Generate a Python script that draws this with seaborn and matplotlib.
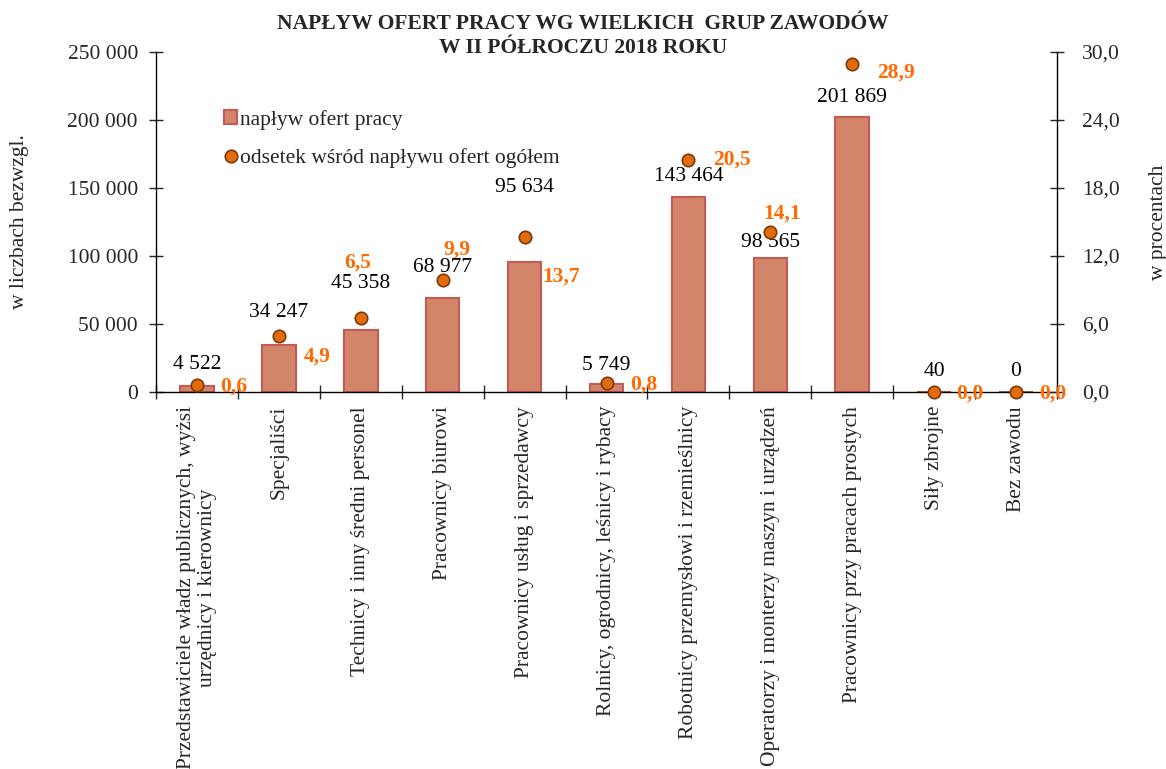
import numpy as np
import matplotlib
matplotlib.use("Agg")
import matplotlib.pyplot as plt
import matplotlib.ticker as mticker
from matplotlib.patches import Patch
from matplotlib.lines import Line2D
import seaborn as sns

# -------------------------------
# DATA
# -------------------------------
categories = [
    "Przedstawiciele władz publicznych, wyżsi\nurzędnicy i kierownicy",
    "Specjaliści",
    "Technicy i inny średni personel",
    "Pracownicy biurowi",
    "Pracownicy usług i sprzedawcy",
    "Rolnicy, ogrodnicy, leśnicy i rybacy",
    "Robotnicy przemysłowi i rzemieślnicy",
    "Operatorzy i monterzy maszyn i urządzeń",
    "Pracownicy przy pracach prostych",
    "Siły zbrojne",
    "Bez zawodu",
]
offers = [4522, 34247, 45358, 68977, 95634, 5749, 143464, 98565, 201869, 40, 0]
share_pct = [0.6, 4.9, 6.5, 9.9, 13.7, 0.8, 20.5, 14.1, 28.9, 0.0, 0.0]

# label offsets (pixels) as placed in the original
offer_lbl_dy = [21, 33, 47, 31, 74, 19, 20, 15, 20, 20, 20]
pct_lbl_dx = [37, 38, -3, 14, 36, 37, 44, 12, 44, 36, 37]
pct_lbl_dy = [-1, -20, 56, 30, -40, -2, 0, 19, -8, -2, -2]

# -------------------------------
# STYLE
# -------------------------------
sns.set_theme(style="white")
plt.rcParams["font.family"] = ["Liberation Serif", "DejaVu Serif"]
FS = 15.5
BAR_FILL = "#D3856A"
BAR_EDGE = "#C55A55"
DOT_FILL = "#E36C09"
DOT_EDGE = "#7A3A10"
PCT_COLOR = "#FF6A00"

fig = plt.figure(figsize=(11.66, 7.69), dpi=100)
ax = fig.add_axes([156 / 1166, 1 - 392 / 769, (1057 - 156) / 1166, (392 - 52) / 769])

# -------------------------------
# BARS
# -------------------------------
sns.barplot(x=categories, y=offers, ax=ax, color=BAR_FILL, saturation=1,
            width=0.41, edgecolor=BAR_EDGE, linewidth=1.5)
ax.set_ylim(0, 250000)
ax.set_xlim(-0.5, len(categories) - 0.5)
ax.yaxis.set_major_locator(mticker.MultipleLocator(50000))
ax.yaxis.set_major_formatter(mticker.FuncFormatter(lambda v, p: f"{int(v):,}".replace(",", " ")))

for i, v in enumerate(offers):
    ax.annotate(f"{v:,}".replace(",", " "), (i, v), xytext=(0, offer_lbl_dy[i]),
                textcoords="offset pixels", ha="center", va="center",
                fontsize=FS, color="black")

# -------------------------------
# DOTS (secondary axis)
# -------------------------------
ax2 = ax.twinx()
sns.scatterplot(x=categories, y=share_pct, ax=ax2, color=DOT_FILL, s=80,
                edgecolor=DOT_EDGE, linewidth=1.2, zorder=5, clip_on=False)
ax2.set_ylim(0, 30)
ax2.set_xlim(-0.5, len(categories) - 0.5)
ax2.yaxis.set_major_locator(mticker.MultipleLocator(6))
ax2.yaxis.set_major_formatter(mticker.FuncFormatter(lambda v, p: f"{v:.1f}".replace(".", ",")))

for i, p in enumerate(share_pct):
    ax2.annotate(f"{p:.1f}".replace(".", ","), (i, p),
                 xytext=(pct_lbl_dx[i], pct_lbl_dy[i]), textcoords="offset pixels",
                 ha="center", va="center", fontsize=FS, fontweight="bold",
                 color=PCT_COLOR, zorder=6, annotation_clip=False)

# -------------------------------
# AXES
# -------------------------------
for a in (ax, ax2):
    a.spines["top"].set_visible(False)
    for s in ("left", "right", "bottom"):
        a.spines[s].set_color("black")
        a.spines[s].set_linewidth(1.0)
    a.grid(False)

ax.spines["right"].set_visible(False)
ax2.spines["left"].set_visible(False)
ax2.spines["bottom"].set_visible(False)

ax.tick_params(axis="y", direction="inout", length=10, width=1, labelsize=FS, pad=8, left=True)
ax2.tick_params(axis="y", direction="inout", length=10, width=1, labelsize=FS, pad=13, right=True)

ax.set_xticks(range(len(categories)))
ax.set_xticklabels(categories, rotation=90, ha="center", va="top",
                   multialignment="center", fontsize=FS)
ax.tick_params(axis="x", which="major", length=0, pad=10)
ax.set_xticks(np.arange(-0.5, len(categories), 1), minor=True)
ax.tick_params(axis="x", which="minor", direction="inout", length=10, width=1, bottom=True)
ax2.tick_params(axis="x", which="both", length=0, labelbottom=False)

ax.set_xlabel("")
ax.set_ylabel("w liczbach bezwzgl.", fontsize=FS, labelpad=28)
ax2.set_ylabel("w procentach", fontsize=FS, labelpad=21, rotation=90)

# -------------------------------
# LEGEND + TITLE
# -------------------------------
handles = [
    Patch(facecolor=BAR_FILL, edgecolor=BAR_EDGE, linewidth=1.5),
    Line2D([], [], marker="o", linestyle="none", markersize=9,
           markerfacecolor=DOT_FILL, markeredgecolor=DOT_EDGE, markeredgewidth=1.2),
]
ax2.legend(handles, ["napływ ofert pracy", "odsetek wśród napływu ofert ogółem"],
           loc="upper left", bbox_to_anchor=(0.066, 0.855), frameon=False,
           fontsize=FS, handlelength=0.6, handleheight=0.6, handletextpad=0.15,
           labelspacing=0.85, borderaxespad=0)

fig.suptitle("NAPŁYW OFERT PRACY WG WIELKICH  GRUP ZAWODÓW\nW II PÓŁROCZU 2018 ROKU",
             x=0.5, y=0.982, fontsize=15.5, fontweight="bold", linespacing=1.25)

fig.savefig("out.png", dpi=100)
